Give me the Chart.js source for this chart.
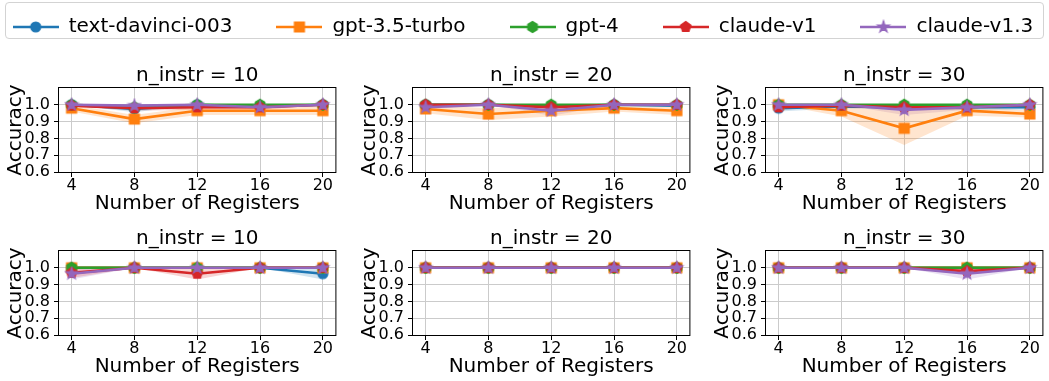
<!DOCTYPE html>
<html>
<head>
<meta charset="utf-8">
<script src="https://cdn.jsdelivr.net/npm/chart.js@4.4.0/dist/chart.umd.min.js"></script>
<style>
  html, body { margin: 0; padding: 0; background: #fff; overflow: hidden; width: 1049px; height: 381px; }
  canvas { position: absolute; }
  #frame { position: absolute; left: 5px; top: 2px; width: 1037px; height: 35px; border: 1px solid #d3d3d3; border-radius: 4px; }
</style>
</head>
<body>
<div id="frame"></div>
<script>
// x axis values and tick labels
const registers = [4, 8, 12, 16, 20];
const yTicks = [0.6, 0.7, 0.8, 0.9, 1.0];
const models = ['text-davinci-003', 'gpt-3.5-turbo', 'gpt-4', 'claude-v1', 'claude-v1.3'];
const panelTitles = ['n_instr = 10', 'n_instr = 20', 'n_instr = 30', 'n_instr = 10', 'n_instr = 20', 'n_instr = 30'];

// mean accuracy, one row per panel (top row left->right, then bottom row)
const davinciMean = [
  [1.0, 0.975, 1.0, 0.99, 1.0],
  [1.0, 1.0, 0.99, 1.0, 0.995],
  [0.98, 0.99, 0.985, 0.985, 0.985],
  [1.0, 1.0, 1.0, 1.0, 0.965],
  [1.0, 1.0, 1.0, 1.0, 1.0],
  [1.0, 1.0, 1.0, 1.0, 1.0]
];
const gpt35Mean = [
  [0.98, 0.915, 0.965, 0.965, 0.965],
  [0.975, 0.945, 0.965, 0.98, 0.965],
  [1.0, 0.965, 0.86, 0.965, 0.945],
  [1.0, 1.0, 1.0, 1.0, 1.0],
  [1.0, 1.0, 1.0, 1.0, 1.0],
  [1.0, 1.0, 1.0, 1.0, 1.0]
];
const gpt4Mean = [
  [1.0, 0.985, 1.0, 1.0, 1.0],
  [1.0, 1.0, 1.0, 1.0, 1.0],
  [1.0, 1.0, 1.0, 1.0, 1.0],
  [1.0, 1.0, 1.0, 1.0, 1.0],
  [1.0, 1.0, 1.0, 1.0, 1.0],
  [1.0, 1.0, 1.0, 1.0, 1.0]
];
const claudeV1Mean = [
  [0.995, 0.98, 0.985, 0.985, 1.0],
  [1.0, 1.0, 0.985, 1.0, 1.0],
  [0.985, 0.995, 0.985, 0.985, 1.0],
  [0.97, 1.0, 0.965, 1.0, 1.0],
  [1.0, 1.0, 1.0, 1.0, 1.0],
  [1.0, 1.0, 1.0, 0.98, 1.0]
];
const claudeV13Mean = [
  [1.0, 0.995, 1.0, 0.985, 1.0],
  [0.985, 1.0, 0.965, 1.0, 1.0],
  [1.0, 1.0, 0.97, 0.985, 1.0],
  [0.965, 1.0, 1.0, 1.0, 1.0],
  [1.0, 1.0, 1.0, 1.0, 1.0],
  [1.0, 1.0, 1.0, 0.965, 1.0]
];

// half width of the shaded band
const davinciErr = [
  [0, 0.02, 0, 0.01, 0],
  [0, 0, 0.01, 0, 0.005],
  [0.02, 0.01, 0.015, 0.015, 0.015],
  [0, 0, 0, 0, 0.035],
  [0, 0, 0, 0, 0],
  [0, 0, 0, 0, 0]
];
const gpt35Err = [
  [0.02, 0.025, 0.025, 0.025, 0.025],
  [0.025, 0.035, 0.035, 0.02, 0.025],
  [0, 0.035, 0.1, 0.03, 0.02],
  [0, 0, 0, 0, 0],
  [0, 0, 0, 0, 0],
  [0, 0, 0, 0, 0]
];
const gpt4Err = [
  [0, 0.015, 0, 0, 0],
  [0, 0, 0, 0, 0],
  [0, 0, 0, 0, 0],
  [0, 0, 0, 0, 0],
  [0, 0, 0, 0, 0],
  [0, 0, 0, 0, 0]
];
const claudeV1Err = [
  [0.005, 0.015, 0.015, 0.015, 0],
  [0, 0, 0.015, 0, 0],
  [0.015, 0.005, 0.015, 0.015, 0],
  [0.03, 0, 0.035, 0, 0],
  [0, 0, 0, 0, 0],
  [0, 0, 0, 0.02, 0]
];
const claudeV13Err = [
  [0, 0.005, 0, 0.015, 0],
  [0.015, 0, 0.03, 0, 0],
  [0, 0, 0.03, 0.015, 0],
  [0.035, 0, 0, 0, 0],
  [0, 0, 0, 0, 0],
  [0, 0, 0, 0.035, 0]
];

const means = [davinciMean, gpt35Mean, gpt4Mean, claudeV1Mean, claudeV13Mean];
const errs = [davinciErr, gpt35Err, gpt4Err, claudeV1Err, claudeV13Err];
const colors = ['#1f77b4', '#ff7f0e', '#2ca02c', '#d62728', '#9467bd'];
const shapes = ['circle', 'square', 'hexagon', 'pentagon', 'star'];

Chart.defaults.font.family = "'DejaVu Sans'";
Chart.defaults.color = '#000';

function rgba(hex, a) {
  const n = parseInt(hex.slice(1), 16);
  return `rgba(${n >> 16},${(n >> 8) & 255},${n & 255},${a})`;
}

// matplotlib-like markers
function markerPath(ctx, shape, cx, cy, r) {
  ctx.beginPath();
  if (shape === 'circle') {
    ctx.arc(cx, cy, r, 0, Math.PI * 2);
  } else if (shape === 'square') {
    ctx.rect(cx - r, cy - r, 2 * r, 2 * r);
  } else {
    const star = shape === 'star';
    const n = star ? 10 : (shape === 'hexagon' ? 6 : 5);
    for (let i = 0; i < n; i++) {
      const a = -Math.PI / 2 + i * 2 * Math.PI / n;
      const rr = star && i % 2 ? r * 0.382 : r;
      const px = cx + rr * Math.cos(a), py = cy + rr * Math.sin(a);
      if (i === 0) ctx.moveTo(px, py); else ctx.lineTo(px, py);
    }
    ctx.closePath();
  }
}

function markerSize(shape) {
  return shape === 'star' ? 6.2 : (shape === 'circle' || shape === 'square') ? 5 : 5.5;
}

function makeMarker(k) {
  const c = document.createElement('canvas');
  c.width = 16; c.height = 16;
  const ctx = c.getContext('2d');
  markerPath(ctx, shapes[k], 8, 8, markerSize(shapes[k]));
  ctx.fillStyle = colors[k];
  ctx.fill();
  ctx.lineWidth = 1.2;
  ctx.strokeStyle = colors[k];
  ctx.stroke();
  return c;
}

function makeLegendIcon(k) {
  const c = document.createElement('canvas');
  c.width = 46; c.height = 16;
  const ctx = c.getContext('2d');
  ctx.strokeStyle = colors[k];
  ctx.lineWidth = 2.6;
  ctx.beginPath();
  ctx.moveTo(0, 8); ctx.lineTo(46, 8);
  ctx.stroke();
  markerPath(ctx, shapes[k], 23, 8, markerSize(shapes[k]));
  ctx.fillStyle = colors[k];
  ctx.fill();
  ctx.lineWidth = 1.2;
  ctx.stroke();
  return c;
}

const markerImgs = colors.map((c, k) => makeMarker(k));
const legendIcons = colors.map((c, k) => makeLegendIcon(k));

const spines = {
  id: 'spines',
  afterDraw(chart) {
    const { ctx, chartArea: a } = chart;
    ctx.save();
    ctx.strokeStyle = '#000';
    ctx.lineWidth = 1;
    ctx.strokeRect(a.left - 0.5, a.top - 0.5, a.right - a.left + 1, a.bottom - a.top + 1);
    ctx.restore();
  }
};

function panelDatasets(p) {
  const sets = [];
  means.forEach((m, k) => {
    const mean = m[p], err = errs[k][p];
    sets.push({
      data: registers.map((x, i) => ({ x, y: mean[i] + err[i] })),
      borderWidth: 0, pointRadius: 0, fill: false, order: 30 + k
    });
    sets.push({
      data: registers.map((x, i) => ({ x, y: mean[i] - err[i] })),
      borderWidth: 0, pointRadius: 0, fill: '-1',
      backgroundColor: rgba(colors[k], 0.2), order: 30 + k
    });
  });
  means.forEach((m, k) => {
    sets.push({
      label: models[k],
      data: registers.map((x, i) => ({ x, y: m[p][i] })),
      borderColor: colors[k],
      backgroundColor: colors[k],
      borderWidth: 2.6,
      pointStyle: markerImgs[k],
      pointRadius: 5,
      fill: false,
      order: 10 - k
    });
  });
  return sets;
}

const plotLefts = [59, 413, 766];
const plotTops = [88, 251];
const plotW = 284, plotH = 84;
const yAxisW = 58, titleH = 24, xAxisH = 44;

for (let p = 0; p < 6; p++) {
  const row = Math.floor(p / 3), col = p % 3;
  const canvas = document.createElement('canvas');
  canvas.width = yAxisW + plotW;
  canvas.height = titleH + plotH + xAxisH;
  canvas.style.left = (plotLefts[col] - yAxisW) + 'px';
  canvas.style.top = (plotTops[row] - titleH) + 'px';
  document.body.appendChild(canvas);

  new Chart(canvas, {
    type: 'line',
    data: { datasets: panelDatasets(p) },
    options: {
      responsive: false,
      animation: false,
      events: [],
      layout: { padding: 0 },
      scales: {
        x: {
          type: 'linear', min: 3.2, max: 20.8,
          afterBuildTicks: s => { s.ticks = registers.map(v => ({ value: v })); },
          afterFit: s => { s.height = xAxisH; },
          ticks: { font: { size: 16 }, padding: -1, maxRotation: 0, autoSkip: false },
          grid: { color: '#cbcbcb', lineWidth: 1, tickColor: '#000', tickLength: 5 },
          border: { display: false },
          title: { display: true, text: 'Number of Registers', font: { size: 20 }, padding: { top: 0, bottom: 0 } }
        },
        y: {
          min: 0.6, max: 1.1,
          afterBuildTicks: s => { s.ticks = yTicks.map(v => ({ value: v })); },
          afterFit: s => { s.width = yAxisW; },
          ticks: { font: { size: 16, lineHeight: 1 }, padding: 4, autoSkip: false, callback: v => v.toFixed(1) },
          grid: { color: '#cbcbcb', lineWidth: 1, tickColor: '#000', tickLength: 5 },
          border: { display: false },
          title: { display: true, text: 'Accuracy', font: { size: 20 }, padding: { top: 3, bottom: 0 } }
        }
      },
      plugins: {
        legend: { display: false },
        tooltip: { enabled: false },
        title: {
          display: true, text: panelTitles[p], fullSize: false,
          font: { size: 20, weight: 'normal' }, color: '#000',
          padding: { top: 0, bottom: 0 }
        }
      }
    },
    plugins: [spines]
  });
}

// legend drawn by its own chart instance
const legendCanvas = document.createElement('canvas');
legendCanvas.width = 1200;
legendCanvas.height = 160;
legendCanvas.style.left = '-77px';
legendCanvas.style.top = '-27px';
document.body.appendChild(legendCanvas);

new Chart(legendCanvas, {
  type: 'line',
  data: { datasets: models.map(m => ({ label: m, data: [] })) },
  options: {
    responsive: false,
    animation: false,
    events: [],
    scales: { x: { display: false }, y: { display: false } },
    plugins: {
      tooltip: { enabled: false },
      legend: {
        position: 'top',
        labels: {
          usePointStyle: true,
          pointStyleWidth: 46,
          boxHeight: 20,
          padding: 44,
          font: { size: 20 },
          color: '#000',
          generateLabels: () => models.map((m, k) => ({
            text: m, pointStyle: legendIcons[k], fillStyle: colors[k],
            strokeStyle: colors[k], lineWidth: 0, hidden: false,
            datasetIndex: k, fontColor: '#000'
          }))
        }
      }
    }
  }
});
</script>
</body>
</html>
